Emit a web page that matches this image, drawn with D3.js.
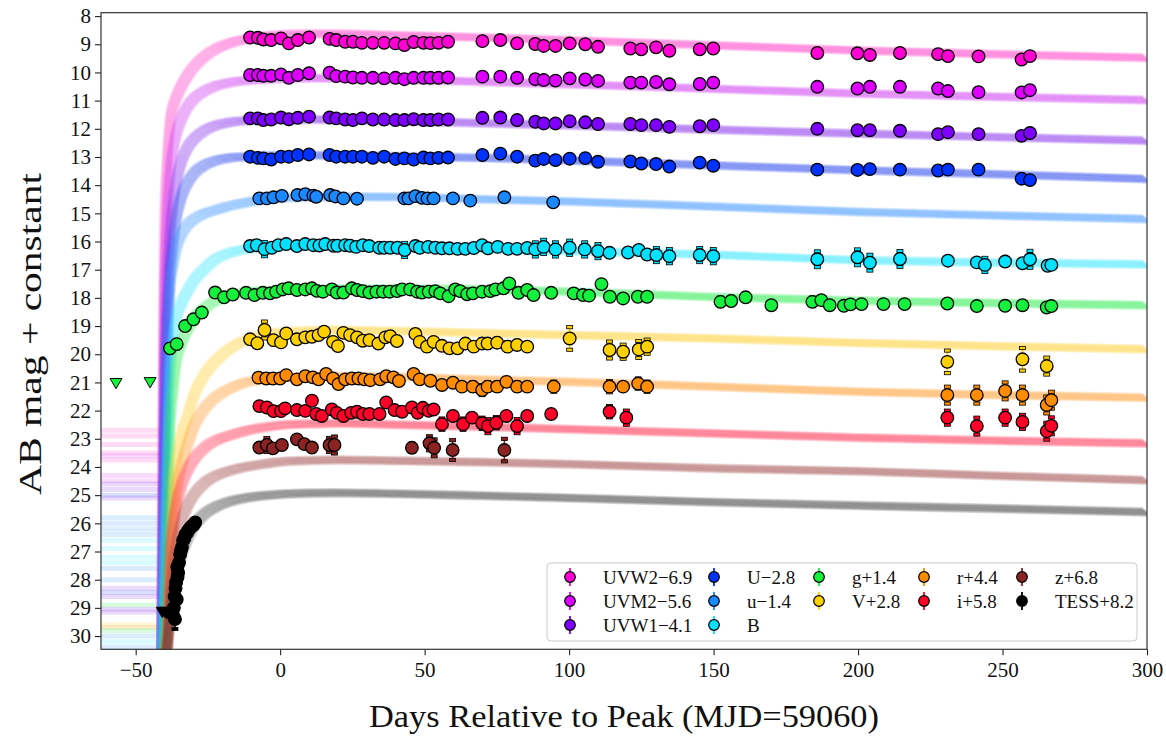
<!DOCTYPE html>
<html><head><meta charset="utf-8">
<script src="https://cdn.jsdelivr.net/npm/d3@7"></script>
<style>body{margin:0;background:#fff;} text{font-family:"Liberation Serif","DejaVu Serif",serif;fill:#111;}</style>
</head><body><svg id="c" width="1166" height="736"></svg>
<script>
// ---------------- data ----------------
const bands = ["UVW2","UVM2","UVW1","U","u","B","g","V","r","i","z","TESS"];
const legendLabels = ["UVW2\u22126.9","UVM2\u22125.6","UVW1\u22124.1","U\u22122.8","u\u22121.4","B","g+1.4","V+2.8","r+4.4","i+5.8","z+6.8","TESS+8.2"];
const pointColors = ["#ff00d4","#dd00ff","#8000ff","#0033ff","#1a88ff","#00e1ff","#14f03c","#ffd000","#ff8c00","#ff0028","#8b2323","#000000"];
const curveColors = ["#ff3cc8","#d23cf5","#8a30f0","#2848f0","#3c96ff","#2ee6ff","#28ee50","#ffd230","#ff9a2a","#ff2850","#a04646","#3a3a3a"];
const xTicks = [-50,0,50,100,150,200,250,300];
const yTicks = [8,9,10,11,12,13,14,15,16,17,18,19,20,21,22,23,24,25,26,27,28,29,30];

// Swift epochs shared by UVW2, UVM2, UVW1, U
const swiftDays = [-10.4,-7.7,-5.8,-3.1,0.3,3.0,6.1,10.0,17.1,19.4,22.5,25.2,28.3,32.1,36.0,39.9,43.0,46.2,49.6,52.0,54.8,58.1,70.0,76.2,82.0,88.3,91.2,95.3,100.2,105.6,110.0,121.2,125.0,130.1,134.7,145.2,149.9,185.9,199.8,204.1,214.5,227.7,231.1,241.7,256.6,259.5];
const uvw2Mag = [8.76,8.77,8.83,8.85,8.79,8.97,8.85,8.76,8.81,8.85,8.91,8.91,8.95,8.95,8.95,8.97,9.03,8.92,8.95,8.96,8.95,8.91,8.89,8.85,8.97,8.99,9.06,9.06,8.97,9.00,9.09,9.15,9.18,9.11,9.23,9.18,9.15,9.31,9.32,9.38,9.31,9.35,9.42,9.43,9.54,9.42];
const uvm2Mag = [10.09,10.09,10.12,10.12,10.07,10.19,10.09,10.03,10.01,10.13,10.15,10.18,10.19,10.19,10.21,10.19,10.24,10.19,10.19,10.19,10.19,10.18,10.15,10.15,10.19,10.24,10.27,10.29,10.21,10.25,10.30,10.36,10.36,10.34,10.42,10.41,10.36,10.51,10.57,10.51,10.51,10.57,10.66,10.70,10.71,10.63];
const uvw1Mag = [11.63,11.63,11.69,11.67,11.60,11.66,11.61,11.57,11.60,11.63,11.67,11.69,11.63,11.67,11.67,11.69,11.69,11.66,11.69,11.69,11.67,11.67,11.61,11.60,11.69,11.75,11.81,11.81,11.73,11.77,11.83,11.83,11.87,11.87,11.93,11.91,11.87,12.00,12.05,12.05,12.07,12.19,12.12,12.19,12.25,12.15];
const uSwiftMag = [12.99,13.03,13.05,13.09,12.99,12.99,12.93,12.91,12.93,12.99,12.99,12.99,12.99,13.03,12.99,13.07,13.05,13.09,13.02,13.05,13.03,13.02,12.93,12.88,12.99,13.13,13.07,13.11,13.06,13.04,13.17,13.16,13.23,13.25,13.34,13.20,13.31,13.45,13.46,13.43,13.45,13.48,13.45,13.45,13.77,13.82];

// [day, mag, err]
const uData = [[-7.2,14.47],[-4.6,14.47],[-2.3,14.43],[0.6,14.38],[6.0,14.35],[8.7,14.32],[11.5,14.37],[12.5,14.41],[17.3,14.35],[19.1,14.40],[21.9,14.47],[26.6,14.48],[43.0,14.47],[44.4,14.47],[46.8,14.39],[49.1,14.45],[51.0,14.47],[53.1,14.47],[59.8,14.47],[65.8,14.55],[77.6,14.43],[94.5,14.61]];
const bData = [[-10.4,16.16],[-8.1,16.13],[-5.4,16.27,.25],[-2.9,16.22],[-0.6,16.13],[2.1,16.09],[5.8,16.16],[8.7,16.09],[11.5,16.13],[13.6,16.14],[15.6,16.09],[18.5,16.15],[19.8,16.15],[22.5,16.13],[24.2,16.15],[26.3,16.19],[28.6,16.13],[30.8,16.16],[34.3,16.22],[36.0,16.22],[38.1,16.22],[40.6,16.22],[43.1,16.30,.25],[46.8,16.16],[48.3,16.22],[51.2,16.19],[53.7,16.22],[56.0,16.24],[58.6,16.24],[61.4,16.26],[64.1,16.26],[67.0,16.23],[69.9,16.13],[71.9,16.24],[75.3,16.19],[78.9,16.26],[82.0,16.26],[85.5,16.23],[88.3,16.28,.25],[91.2,16.19,.25],[95.3,16.28,.25],[100.2,16.22,.25],[105.4,16.28,.25],[110.0,16.34,.25],[114.0,16.40],[120.4,16.39],[124.1,16.30],[127.0,16.46],[130.2,16.48,.25],[134.7,16.52,.25],[145.2,16.48,.25],[149.9,16.52,.25],[185.9,16.63,.28],[199.8,16.56,.28],[204.1,16.75,.28],[214.5,16.62,.28],[231.1,16.68],[241.1,16.74],[243.9,16.83,.25],[250.9,16.71],[256.9,16.77],[259.5,16.63,.3],[265.6,16.86],[266.9,16.83]];
const gData = [[-38.1,19.79,.15],[-35.8,19.64,.15],[-32.9,19.0],[-30.0,18.76],[-27.1,18.52],[-22.5,17.81],[-19.4,17.98],[-16.4,17.88],[-11.8,17.82],[-8.9,17.90],[-6.0,17.82],[-3.5,17.84],[-1.4,17.78],[0.9,17.70],[2.9,17.66],[5.8,17.72],[8.7,17.70],[11.0,17.66],[12.7,17.75],[14.8,17.78],[17.9,17.70],[19.6,17.81],[21.9,17.81],[24.8,17.66],[26.6,17.72],[28.6,17.76],[30.9,17.81],[33.3,17.78],[35.6,17.78],[37.9,17.78],[40.4,17.76],[42.2,17.70],[45.0,17.70],[47.4,17.78],[49.1,17.81],[51.4,17.78],[53.7,17.76],[55.4,17.84],[58.3,17.94],[60.6,17.70],[62.3,17.76],[64.7,17.87],[66.7,17.84],[69.9,17.78],[72.7,17.76],[74.5,17.70],[77.3,17.66],[79.3,17.49],[82.5,17.82],[85.5,17.72],[87.7,17.90],[93.8,17.82],[101.6,17.84],[104.8,17.90],[106.9,17.92],[111.2,17.51],[114.1,17.96],[118.7,18.02],[123.8,17.96],[127.0,17.96],[152.4,18.14,.15],[156.1,18.11,.15],[161.1,17.98],[170.0,18.26],[184.2,18.14,.15],[187.3,18.08],[190.2,18.26],[195.1,18.28],[197.4,18.23],[201.2,18.22],[208.8,18.22],[216.1,18.22],[230.9,18.20],[241.1,18.29],[250.9,18.28],[256.9,18.26],[265.3,18.34],[266.9,18.29]];
const vData = [[-10.4,19.47],[-7.9,19.61],[-5.4,19.14,.3],[-2.3,19.50,.15],[0.3,19.58],[2.1,19.26],[5.8,19.47],[8.7,19.40],[11.0,19.38],[13.3,19.32],[15.2,19.20],[18.3,19.56],[20.0,19.71],[21.9,19.24],[24.2,19.32],[26.6,19.40],[28.6,19.52],[30.9,19.50],[34.0,19.62],[36.4,19.40],[38.1,19.36],[40.4,19.53],[46.8,19.28],[48.3,19.56],[50.8,19.73,.15],[53.1,19.56,.12],[56.0,19.70],[58.6,19.79,.12],[61.4,19.79],[64.1,19.62,.15],[67.0,19.73,.15],[69.9,19.62,.15],[71.8,19.62,.15],[75.1,19.59,.15],[78.7,19.73,.15],[82.0,19.67,.15],[85.5,19.73],[100.2,19.44,.4],[114.0,19.85,.3],[118.7,19.91,.25],[124.1,19.83,.3],[127.0,19.73,.25],[230.9,20.27,.4],[256.9,20.18,.4],[265.3,20.42,.3]];
const rData = [[-7.5,20.83],[-4.8,20.86],[-2.5,20.86],[0,20.86],[2.1,20.74],[5.8,20.89],[8.7,20.78],[11.3,20.82],[13.3,20.89],[15.9,20.70],[18.3,20.86],[20.2,21.06],[22.5,20.89],[24.8,20.86],[27.1,20.86],[29.1,20.89],[31.2,20.92,.12],[34.6,20.89],[36.7,20.78],[39.2,20.82],[41.1,20.95,.12],[46.2,20.70],[48.3,20.89],[52.0,20.94],[56.0,21.09],[59.8,21.01],[62.9,21.15],[66.7,21.15,.15],[69.9,21.27,.18],[71.8,21.15,.15],[75.1,21.15,.15],[78.3,20.98],[82.0,21.15,.15],[85.5,21.15],[94.7,21.15,.18],[114.0,21.15,.2],[118.7,21.15],[123.9,21.04,.18],[127.0,21.15,.18],[230.9,21.45,.3],[241.1,21.45,.3],[250.9,21.30,.3],[256.9,21.45,.3],[265.3,21.80,.3],[266.9,21.63,.3]];
const iData = [[-7.2,21.84],[-4.6,21.89],[-2.3,22.02],[0.3,22.02],[1.7,21.92],[5.8,21.98],[8.7,22.01],[11.0,21.65],[12.5,22.12],[14.4,22.19],[17.9,21.96],[19.6,22.08],[21.9,22.19],[24.6,22.08],[26.6,22.04],[28.6,22.12],[30.9,22.12],[34.4,22.12],[36.7,21.71],[39.6,21.98],[42.2,22.04],[45.6,21.89],[47.6,22.08],[49.4,21.90],[51.4,22.01],[53.1,21.96],[56.0,22.48,.2],[59.8,22.19],[63.3,22.48,.2],[66.4,22.25],[69.9,22.45,.2],[71.9,22.55,.25],[74.8,22.43,.2],[78.3,22.19],[82.0,22.55,.25],[85.5,22.19],[93.8,22.12],[114.0,22.04,.2],[119.8,22.25,.25],[230.9,22.25,.25],[241.1,22.55,.3],[250.9,22.25,.25],[256.9,22.40,.25],[265.3,22.73,.3],[266.9,22.54,.3]];
const zData = [[-7.2,23.31,.1],[-4.6,23.22,.25],[-2.5,23.34,.1],[0.6,23.22,.1],[5.8,23.02],[8.4,23.19],[11.0,23.31],[17.1,23.22,.25],[18.8,23.22,.3],[45.6,23.32,.15],[51.7,23.16,.25],[53.3,23.32,.3],[59.7,23.40,.35],[77.6,23.40,.4]];
const tessData = [[-37.2,29.2,.25],[-36.8,29.0,.3],[-36.4,29.4,.35],[-36.5,28.6,.3],[-36.2,28.3,.3],[-36.0,28.1,.25],[-35.8,28.7,.3],[-35.5,27.9,.25],[-35.3,27.75,.2],[-35.6,27.55,.2],[-35.0,27.4,.2],[-34.6,27.1,.2],[-34.3,26.95,.15],[-34.0,26.85,.15],[-33.6,26.6,.15],[-33.2,26.55,.15],[-32.8,26.4,.12],[-32.3,26.35,.12],[-31.8,26.25,.1],[-31.2,26.17,.1],[-30.6,26.1,.1],[-30.0,26.06,.1],[-29.4,25.97,.1]];
const tessLimits = [[-40.8,29.15],[-40.0,29.15],[-39.2,29.2]];
const gLimits = [[-56.8,21.03],[-45.0,21.0]];

// model light curves (median of fan)
const modelDays = [-41,-40.5,-40,-39,-38,-37,-36,-34,-32,-30,-26,-22,-18,-12,-6,0,10,20,40,70,100,150,200,250,300];
const modelUVW2 = [31,20,15.5,13,11.7,11.2,10.9,10.45,10.1,9.82,9.42,9.15,8.98,8.82,8.72,8.66,8.63,8.63,8.68,8.76,8.86,9.04,9.22,9.36,9.48];
const modelUVM2 = [31,24,18,15,13.4,12.7,12.2,11.6,11.2,10.95,10.65,10.47,10.37,10.29,10.25,10.22,10.2,10.21,10.25,10.33,10.42,10.58,10.75,10.87,10.98];
const modelUVW1 = [31,26,21,17.5,15.6,14.6,13.9,13.1,12.65,12.38,12.05,11.87,11.78,11.71,11.69,11.68,11.67,11.68,11.72,11.8,11.88,12.03,12.17,12.3,12.42];
const modelU    = [31,27,23,19,17,16,15.2,14.35,13.9,13.6,13.28,13.12,13.04,12.99,12.96,12.95,12.94,12.95,12.98,13.03,13.12,13.3,13.47,13.62,13.78];
const modelu    = [31,28.5,25.5,20.5,17.5,16.8,16.25,15.7,15.4,15.22,15.0,14.87,14.75,14.62,14.52,14.46,14.42,14.41,14.42,14.5,14.58,14.76,14.95,15.08,15.2];
const modelB    = [31,29.5,27.5,23.5,20.5,19.4,18.75,18.15,17.75,17.4,16.95,16.6,16.42,16.27,16.21,16.18,16.16,16.16,16.19,16.26,16.33,16.47,16.66,16.75,16.81];
const modelg    = [31.5,31,30,27,22.5,21.2,20.3,19.55,19.1,18.75,18.35,18.08,17.93,17.8,17.75,17.72,17.7,17.68,17.68,17.7,17.78,17.97,18.1,18.19,18.26];
const modelV    = [31.5,31.3,31,30,27.5,24.5,23.8,22.8,22.2,21.5,20.7,20.2,19.85,19.5,19.32,19.22,19.16,19.14,19.18,19.25,19.32,19.44,19.6,19.72,19.82];
const modelr    = [31.5,31.3,31,30,28,26.5,25,23.9,23.2,22.6,21.9,21.5,21.25,21.0,20.9,20.84,20.8,20.78,20.8,20.9,20.98,21.15,21.33,21.45,21.54];
const modeli    = [31.5,31.3,31,30,27,26,25.4,24.6,24.1,23.75,23.3,23.05,22.9,22.72,22.6,22.52,22.47,22.45,22.5,22.57,22.66,22.81,22.96,23.07,23.16];
const modelz    = [31.5,31.4,31.2,30.5,28.5,27.5,26.8,25.9,25.35,25.0,24.55,24.3,24.15,24.0,23.9,23.82,23.77,23.75,23.78,23.83,23.9,24.05,24.15,24.32,24.47];
const modelTESS = [31.5,31.3,31,30.3,29.2,28.5,27.9,27.05,26.5,26.1,25.65,25.4,25.24,25.1,25.02,24.97,24.93,24.92,24.95,25.02,25.1,25.25,25.37,25.48,25.6];

// faint pre-explosion model levels [mag, band index]
const preStripes = [[22.7,0],[22.9,0],[23.2,0],[23.5,0],[23.6,1],[23.75,0],[24.3,1],[24.5,1],[24.6,2],[24.8,2],[25.0,3],[25.1,2],[25.8,4],[26.0,4],[26.2,4],[26.4,4],[26.6,5],[26.9,5],[27.2,5],[27.4,5],[27.6,4],[28.0,4],[28.3,2],[28.45,3],[28.6,2],[28.9,6],[29.05,2],[29.15,2],[29.6,7],[29.7,8],[29.8,6],[30.0,4],[30.2,5],[30.4,4]];

// ---------------- drawing ----------------
const svg = d3.select("#c");
const L=101, R=1147, T=12.7, B=649.3;
const x = d3.scaleLinear().domain([-62,300]).range([L,R]);
const y = d3.scaleLinear().domain([7.88,30.47]).range([T,B]);

svg.append("rect").attr("width",1166).attr("height",736).attr("fill","#fff");
svg.append("defs").append("clipPath").attr("id","clip")
  .append("rect").attr("x",L).attr("y",T).attr("width",R-L).attr("height",B-T);
const plot = svg.append("g").attr("clip-path","url(#clip)");

// pre-explosion stripes
const sg = plot.append("g");
preStripes.forEach(([m,b])=>{
  sg.append("line").attr("x1",x(-62)).attr("x2",x(-40.6))
    .attr("y1",y(m)).attr("y2",y(m))
    .attr("stroke",curveColors[b]).attr("stroke-opacity",0.18).attr("stroke-width",5);
});

// model fans
const models = [modelUVW2,modelUVM2,modelUVW1,modelU,modelu,modelB,modelg,modelV,modelr,modeli,modelz,modelTESS];
const line = d3.line().curve(d3.curveMonotoneX);
models.forEach((mags,b)=>{
  const g = plot.append("g");
  for(let k=-5;k<=5;k++){
    const pts = modelDays.map((d,j)=>[x(d + k*0.3), y(mags[j] + k*0.025)]);
    g.append("path").attr("d",line(pts)).attr("fill","none")
      .attr("stroke",curveColors[b]).attr("stroke-opacity",0.17).attr("stroke-width",3);
  }
});

// data points
const swiftBands = [uvw2Mag,uvm2Mag,uvw1Mag,uSwiftMag].map(arr=>swiftDays.map((d,i)=>[d,arr[i],0.03]));
const allData = [...swiftBands, uData, bData, gData, vData, rData, iData, zData, tessData];
const pg = plot.append("g");
function drawPoints(data,b){
  const col = pointColors[b];
  const g = pg.append("g");
  data.forEach(p=>{
    const e = p[2]||0.03;
    const cx = x(p[0]), cy = y(p[1]);
    const y1 = y(p[1]-e), y2 = y(p[1]+e);
    g.append("line").attr("x1",cx).attr("x2",cx).attr("y1",y1).attr("y2",y2)
      .attr("stroke",col).attr("stroke-width",1.6);
    if (e>0.08){
      [y1,y2].forEach(yy=>g.append("rect").attr("x",cx-3).attr("y",yy-1.6).attr("width",6).attr("height",3.2)
        .attr("fill",col).attr("stroke","#000").attr("stroke-width",0.8));
    }
  });
  data.forEach(p=>{
    g.append("circle").attr("cx",x(p[0])).attr("cy",y(p[1])).attr("r",6.3)
      .attr("fill",col).attr("stroke","#000").attr("stroke-width",1.3);
  });
}
allData.forEach((d,b)=>drawPoints(d,b));

// upper limits (downward triangles)
function tri(g,cx,cy,col){
  const s=6;
  g.append("path").attr("d",`M${cx-s},${cy-s*0.8}L${cx+s},${cy-s*0.8}L${cx},${cy+s*0.9}Z`)
    .attr("fill",col).attr("stroke","#000").attr("stroke-width",1);
}
gLimits.forEach(p=>tri(pg,x(p[0]),y(p[1]),pointColors[6]));
tessLimits.forEach(p=>tri(pg,x(p[0]),y(p[1]),"#000"));

// axes
const xAxis = d3.axisBottom(x).tickValues(xTicks).tickSize(6).tickPadding(7)
  .tickFormat(d=> d<0 ? "\u2212"+Math.abs(d) : String(d));
const yAxis = d3.axisLeft(y).tickValues(yTicks).tickSize(6).tickPadding(4).tickFormat(d=>String(d));
const gx = svg.append("g").attr("transform",`translate(0,${B})`).call(xAxis);
const gy = svg.append("g").attr("transform",`translate(${L},0)`).call(yAxis);
[gx,gy].forEach(g=>{
  g.select(".domain").remove();
  g.selectAll(".tick line").attr("stroke","#222").attr("stroke-width",1.1);
  g.selectAll(".tick text").attr("font-size",21).attr("fill","#111")
    .style("font-family","'Liberation Serif','DejaVu Serif',serif");
});
svg.append("rect").attr("x",L).attr("y",T).attr("width",R-L).attr("height",B-T)
  .attr("fill","none").attr("stroke","#333").attr("stroke-width",1.2);

// axis titles
svg.append("text").attr("x",(L+R)/2).attr("y",727).attr("text-anchor","middle")
  .attr("font-size",32).attr("textLength",510).attr("lengthAdjust","spacingAndGlyphs")
  .text("Days Relative to Peak (MJD=59060)");
svg.append("text").attr("transform","translate(41,334) rotate(-90)").attr("text-anchor","middle")
  .attr("font-size",32).attr("textLength",322).attr("lengthAdjust","spacingAndGlyphs")
  .text("AB mag + constant");

// legend
const lg = svg.append("g");
lg.append("rect").attr("x",547).attr("y",563).attr("width",590).attr("height",78).attr("rx",4)
  .attr("fill","#fff").attr("fill-opacity",0.85).attr("stroke","#ccc").attr("stroke-width",1);
const legendCols = [[0,1,2],[3,4,5],[6,7],[8,9],[10,11]];
const colMarkerX = [570,714,819,924,1022];
const rowY = [577,601,625];
legendCols.forEach((col,ci)=>{
  col.forEach((b,ri)=>{
    const mx = colMarkerX[ci], my = rowY[ri];
    lg.append("line").attr("x1",mx).attr("x2",mx).attr("y1",my-9).attr("y2",my+9)
      .attr("stroke",pointColors[b]).attr("stroke-width",1.8);
    lg.append("circle").attr("cx",mx).attr("cy",my).attr("r",5.3)
      .attr("fill",pointColors[b]).attr("stroke","#000").attr("stroke-width",1.2);
    lg.append("text").attr("x",mx+33).attr("y",my+6.5).attr("font-size",19).text(legendLabels[b]);
  });
});
</script></body></html>
